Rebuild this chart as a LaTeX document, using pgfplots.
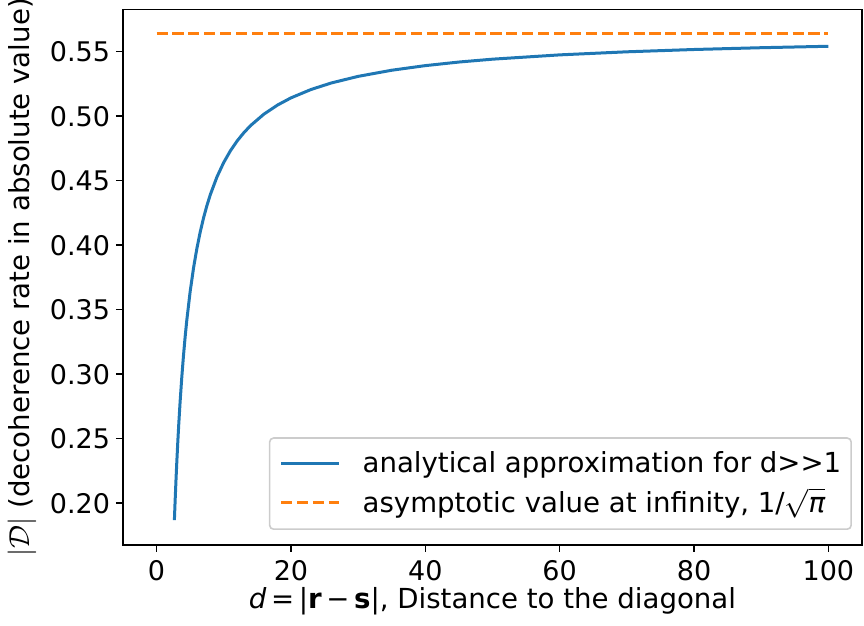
\documentclass[border=0pt]{standalone}
\usepackage{pgfplots}
\pgfplotsset{compat=1.18}
\usepackage{fontspec}
\setmainfont{DejaVu Sans}
\definecolor{mplblue}{HTML}{1F77B4}
\definecolor{mplorange}{HTML}{FF7F0E}
\definecolor{legframe}{HTML}{CCCCCC}
\newcommand{\fs}{\fontsize{13.8}{16}\selectfont}
\begin{document}
\fs
\begin{tikzpicture}
\path[use as bounding box] (-61.5pt,-40.5pt) rectangle (370.5pt,272.5pt);
\begin{axis}[
  scale only axis,
  width=369.5pt, height=267.75pt,
  xmin=-5, xmax=105, ymin=0.1676, ymax=0.5827,
  xtick={0,20,40,60,80,100},
  ytick={0.20,0.25,0.30,0.35,0.40,0.45,0.50,0.55},
  /pgf/number format/assume math mode=true,
  yticklabel style={/pgf/number format/fixed, /pgf/number format/fixed zerofill, /pgf/number format/precision=2},
  tick align=outside, tick pos=left,
  major tick length=3.5pt,
  every tick/.style={line width=0.8pt, black},
  axis line style={line width=0.8pt},
  xticklabel style={anchor=north, inner sep=0pt, yshift=-4pt, font=\fontsize{13.5}{16}\selectfont},
  yticklabel style={anchor=east, inner sep=0pt, xshift=-2.75pt, font=\fontsize{13.5}{16}\selectfont},
  xlabel={\textit{d}\,=\,|\textbf{r}\,−\,\textbf{s}|, Distance to the diagonal},
  ylabel={$|\mathcal{D}|$ (decoherence rate in absolute value)},
  xlabel style={at={(rel axis cs:0.5,0)}, anchor=center, yshift=-28pt, font=\fs},
  ylabel style={at={(rel axis cs:0,0.5)}, anchor=center, yshift=50.5pt, font=\fs},
  legend cell align=left,
  legend style={at={(rel axis cs:1,0)}, anchor=south east, xshift=-5pt, yshift=7.5pt,
    draw=legframe, line width=0.8pt, rounded corners=2pt, fill=white, fill opacity=0.8, text opacity=1,
    inner xsep=5pt, inner ysep=6.5pt, row sep=6pt,
    font=\fs,
    nodes={inner sep=0pt}},
  legend image code/.code={\draw[#1] (0pt,0pt) -- (29pt,0pt); \path (40pt,0pt);},
]
\addplot[mplblue, line width=1.5pt] coordinates {
(2.65,0.18683) (2.75,0.20055) (2.9,0.21936) (3.0,0.23086) (3.15,0.24673)
(3.3,0.26116) (3.5,0.27848) (3.75,0.29752) (4.0,0.31419) (4.25,0.32890)
(4.5,0.34197) (5.0,0.36419) (5.5,0.38237) (6.0,0.39752) (6.5,0.41034)
(7.0,0.42133) (7.5,0.43086) (8.0,0.43919) (9.0,0.45308) (10,0.46419)
(11,0.47328) (12,0.48086) (13,0.48727) (14,0.49276) (16,0.50169)
(18,0.50863) (20,0.51419) (23,0.52071) (26,0.52573) (30,0.53086)
(35,0.53562) (40,0.53919) (45,0.54197) (50,0.54419) (60,0.54752)
(70,0.54990) (80,0.55169) (90,0.55308) (100,0.55419)
};
\addlegendentry{analytical approximation for d>{}>1}
\addplot[mplorange, line width=1.5pt, dash pattern=on 5.55pt off 2.4pt] coordinates {
(0,0.56419) (100,0.56419)
};
\addlegendentry{asymptotic value at infinity, 1/$\sqrt{\mbox{\itshape π}}$}
\end{axis}
\end{tikzpicture}
\end{document}
